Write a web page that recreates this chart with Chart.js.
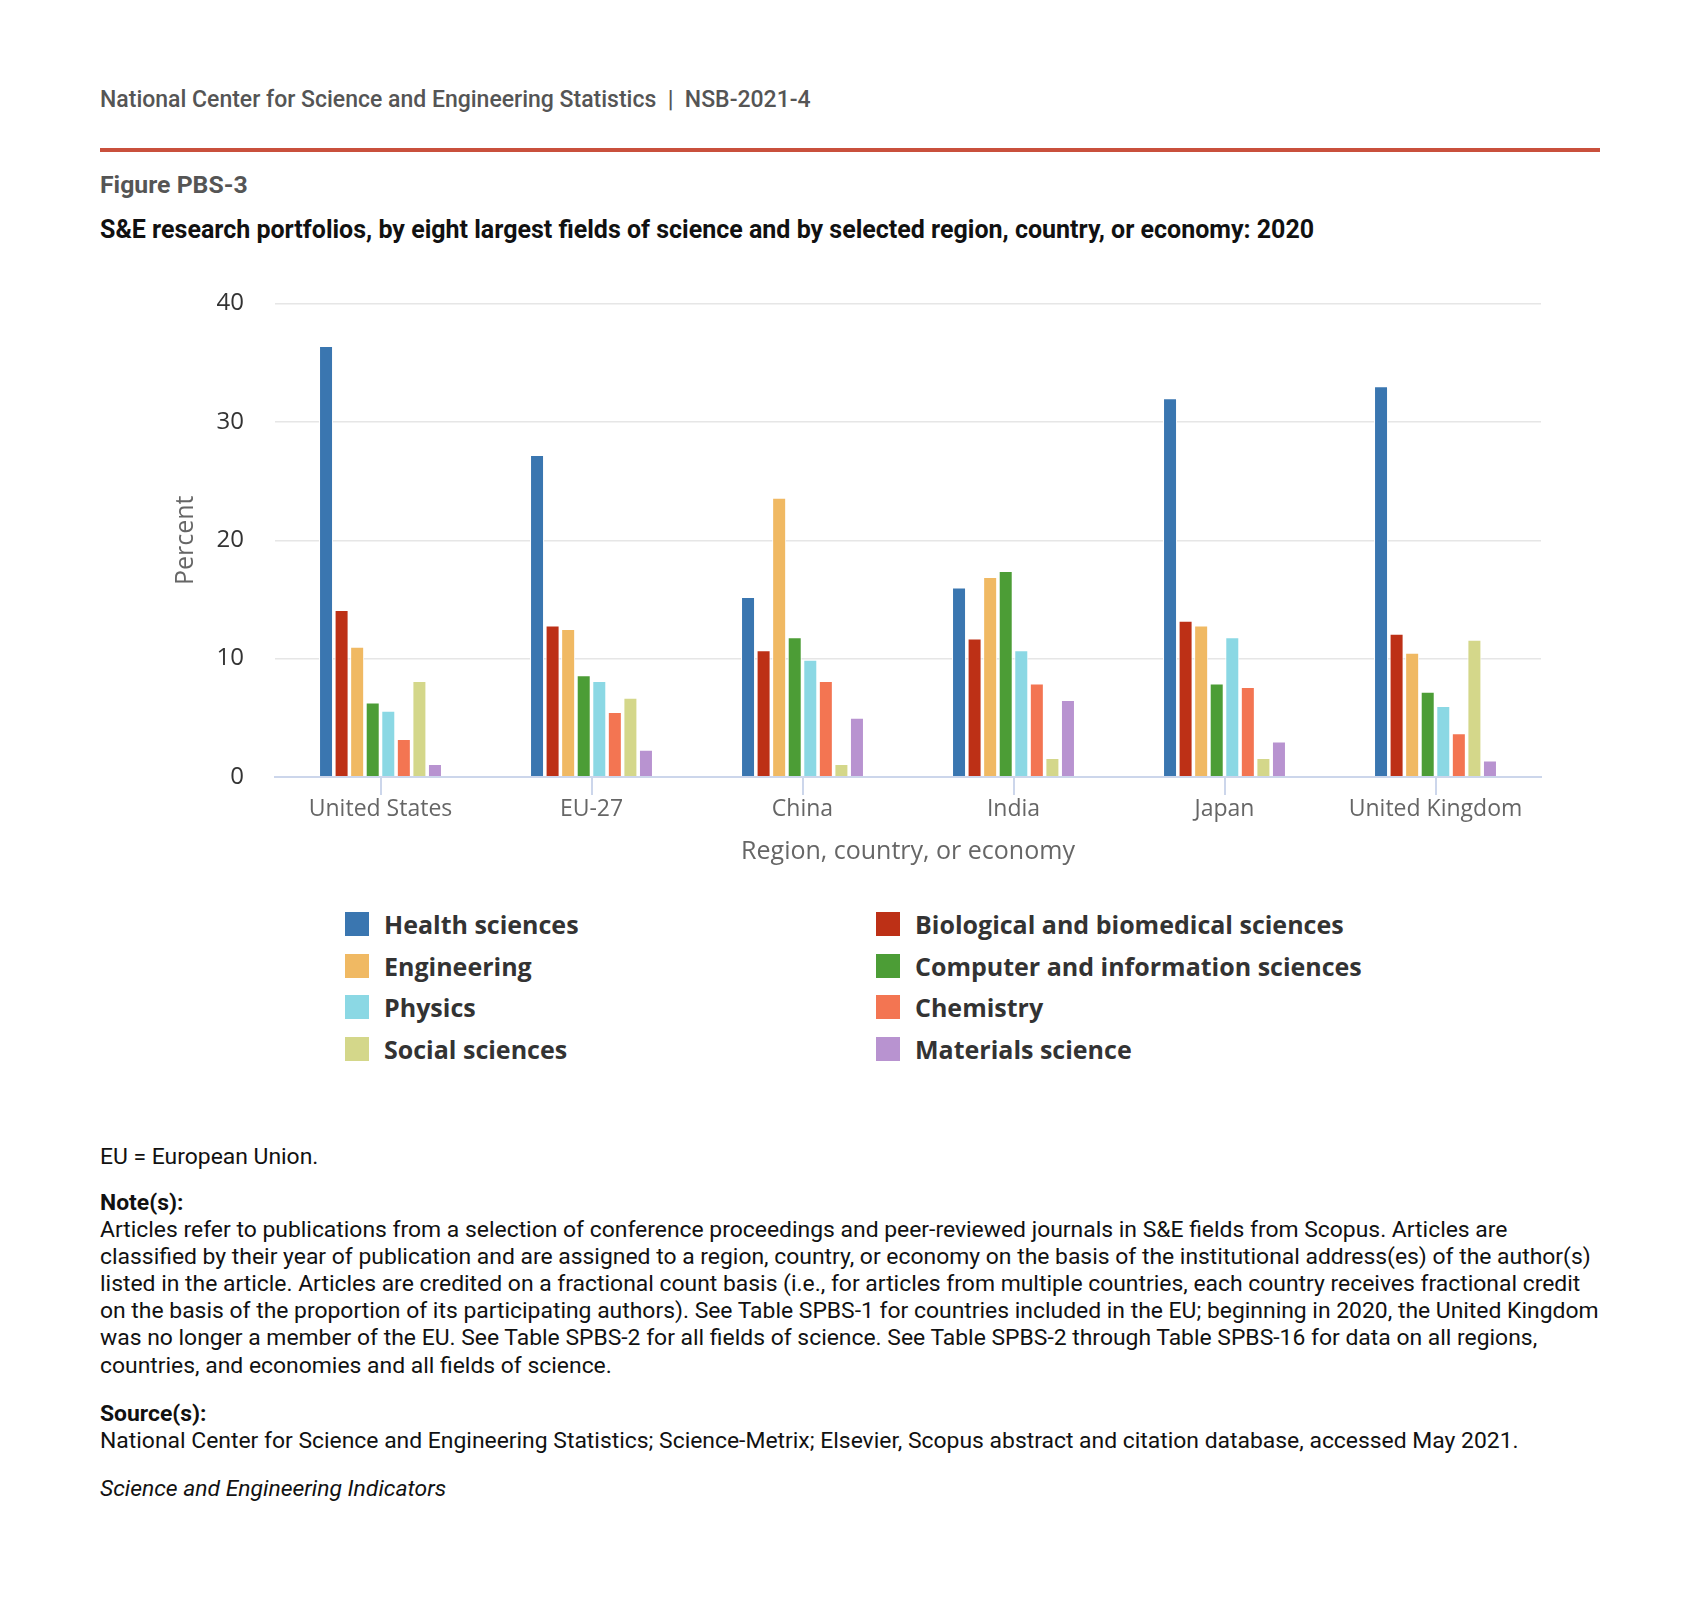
<!DOCTYPE html>
<html>
<head>
<meta charset="utf-8">
<script src="https://cdn.jsdelivr.net/npm/chart.js@4.4.1/dist/chart.umd.min.js"></script>
<style>
  html, body { margin: 0; padding: 0; background: #fff; }
  body { width: 1700px; height: 1611px; position: relative; overflow: hidden; font-family: Roboto, sans-serif; }
  .abs { position: absolute; white-space: nowrap; }
  #hdr { left: 100px; top: 86px; font-size: 23px; line-height: 28px; font-weight: 500; color: #555; }
  #rule { left: 100px; top: 148px; width: 1500px; height: 4px; background: #c9503c; }
  #fig { left: 100px; top: 170px; font-size: 24.8px; line-height: 30px; font-weight: 700; color: #555; }
  #ttl { left: 100px; top: 215px; font-size: 25px; line-height: 30px; font-weight: 700; color: #111; }
  #wrap { left: 150px; top: 280px; width: 1420px; height: 587px; }
  #legend { left: 0; top: 900px; width: 1700px; height: 180px; font-family: "Open Sans", sans-serif; }
  .li { position: absolute; height: 42px; display: flex; align-items: center; }
  .sw { width: 24px; height: 24px; margin-right: 15px; }
  .lt { font-size: 25px; font-weight: 700; color: #333; }
  .foot { left: 100px; font-size: 22.9px; line-height: 27.1px; color: #111; }
</style>
</head>
<body>
<div class="abs" id="hdr">National Center for Science and Engineering Statistics&nbsp; |&nbsp; NSB-2021-4</div>
<div class="abs" id="rule"></div>
<div class="abs" id="fig">Figure PBS-3</div>
<div class="abs" id="ttl">S&amp;E research portfolios, by eight largest fields of science and by selected region, country, or economy: 2020</div>
<div class="abs" id="wrap"><canvas id="chart"></canvas></div>
<div class="abs" id="legend"></div>
<div class="abs foot" style="top:1143px">EU = European Union.</div>
<div class="abs foot" style="top:1189px"><b>Note(s):</b><br>Articles refer to publications from a selection of conference proceedings and peer-reviewed journals in S&amp;E fields from Scopus. Articles are<br>classified by their year of publication and are assigned to a region, country, or economy on the basis of the institutional address(es) of the author(s)<br>listed in the article. Articles are credited on a fractional count basis (i.e., for articles from multiple countries, each country receives fractional credit<br>on the basis of the proportion of its participating authors). See Table SPBS-1 for countries included in the EU; beginning in 2020, the United Kingdom<br>was no longer a member of the EU. See Table SPBS-2 for all fields of science. See Table SPBS-2 through Table SPBS-16 for data on all regions,<br>countries, and economies and all fields of science.</div>
<div class="abs foot" style="top:1400px"><b>Source(s):</b><br>National Center for Science and Engineering Statistics; Science-Metrix; Elsevier, Scopus abstract and citation database, accessed May 2021.</div>
<div class="abs foot" style="top:1475px"><i>Science and Engineering Indicators</i></div>

<script>
// ─────────────────────────────────────────────────────────────
// DATA
// ─────────────────────────────────────────────────────────────
const regions = ['United States', 'EU-27', 'China', 'India', 'Japan', 'United Kingdom'];

const fields = [
  'Health sciences', 'Biological and biomedical sciences', 'Engineering',
  'Computer and information sciences', 'Physics', 'Chemistry',
  'Social sciences', 'Materials science'
];

const healthSciences     = [36.4, 27.2, 15.2, 16.0, 32.0, 33.0];
const biologicalSciences = [14.1, 12.8, 10.7, 11.7, 13.2, 12.1];
const engineering        = [11.0, 12.5, 23.6, 16.9, 12.8, 10.5];
const computerSciences   = [6.3,  8.6,  11.8, 17.4, 7.9,  7.2];
const physics            = [5.6,  8.1,  9.9,  10.7, 11.8, 6.0];
const chemistry          = [3.2,  5.5,  8.1,  7.9,  7.6,  3.7];
const socialSciences     = [8.1,  6.7,  1.1,  1.6,  1.6,  11.6];
const materialsScience   = [1.1,  2.3,  5.0,  6.5,  3.0,  1.4];

const yTicks = [0, 10, 20, 30, 40];

const seriesValues = [
  healthSciences, biologicalSciences, engineering, computerSciences,
  physics, chemistry, socialSciences, materialsScience
];

const COLORS = ['#3a76b0', '#bd3016', '#f0b963', '#4c9d36', '#8bd8e4', '#f37552', '#d4d78a', '#b893d0'];

// ─────────────────────────────────────────────────────────────
// CHART
// ─────────────────────────────────────────────────────────────
const tickFont  = { family: "'Open Sans', sans-serif", size: 23 };
const yTickFont = { family: "'Open Sans', sans-serif", size: 24 };
const titleFont = { family: "'Open Sans', sans-serif", size: 25 };

const datasets = fields.map((name, i) => ({
  label: name,
  data: seriesValues[i],
  backgroundColor: COLORS[i],
  borderColor: '#ffffff',
  borderWidth: 1,
  barPercentage: 0.9,
  categoryPercentage: 0.59,
}));

const chart = new Chart(document.getElementById('chart'), {
  type: 'bar',
  data: { labels: regions, datasets },
  options: {
    responsive: true,
    maintainAspectRatio: false,
    animation: false,
    devicePixelRatio: 1,
    layout: { padding: { left: 21, right: 29, top: 23.5, bottom: 0 } },
    plugins: {
      legend: { display: false },
      tooltip: { enabled: false },
    },
    scales: {
      x: {
        grid: {
          offset: false,
          drawOnChartArea: false,
          drawTicks: true,
          tickLength: 18,
          color: '#ccd6eb',
          lineWidth: 2,
        },
        border: { color: '#ccd6eb', width: 2 },
        ticks: { color: '#666', font: tickFont, padding: 1, maxRotation: 0 },
        title: {
          display: true,
          text: 'Region, country, or economy',
          color: '#666',
          font: titleFont,
          padding: { top: 0, bottom: 0 },
        },
        afterFit: (s) => { s.height = 90; s.paddingLeft = 0; s.paddingRight = 0; },
      },
      y: {
        min: 0,
        max: 40,
        afterBuildTicks: (s) => { s.ticks = yTicks.map(v => ({ value: v })); },
        grid: {
          drawTicks: false,
          color: (ctx) => ctx.tick && ctx.tick.value === 0 ? '#ccd6eb' : '#e6e6e6',
          lineWidth: (ctx) => ctx.tick && ctx.tick.value === 0 ? 2 : 1.5,
        },
        border: { display: false },
        ticks: { color: '#333', font: yTickFont, padding: 31 },
        title: {
          display: true,
          text: 'Percent',
          color: '#666',
          font: titleFont,
          padding: { top: 0, bottom: 0 },
        },
        afterFit: (s) => { s.width = 104; s.paddingTop = 0; s.paddingBottom = 0; },
      },
    },
  },
});

// ─────────────────────────────────────────────────────────────
// LEGEND (two columns, row-major)
// ─────────────────────────────────────────────────────────────
function renderLegend() {
  const box = document.getElementById('legend');
  const colX = [345, 876];
  const rowY = [924, 966, 1007, 1049];
  chart.data.datasets.forEach((ds, i) => {
    const item = document.createElement('div');
    item.className = 'li';
    item.style.left = colX[i % 2] + 'px';
    item.style.top = (rowY[Math.floor(i / 2)] - 900 - 21) + 'px';
    const sw = document.createElement('div');
    sw.className = 'sw';
    sw.style.background = ds.backgroundColor;
    const tx = document.createElement('span');
    tx.className = 'lt';
    tx.textContent = ds.label;
    item.appendChild(sw);
    item.appendChild(tx);
    box.appendChild(item);
  });
}

renderLegend();
</script>
</body>
</html>
